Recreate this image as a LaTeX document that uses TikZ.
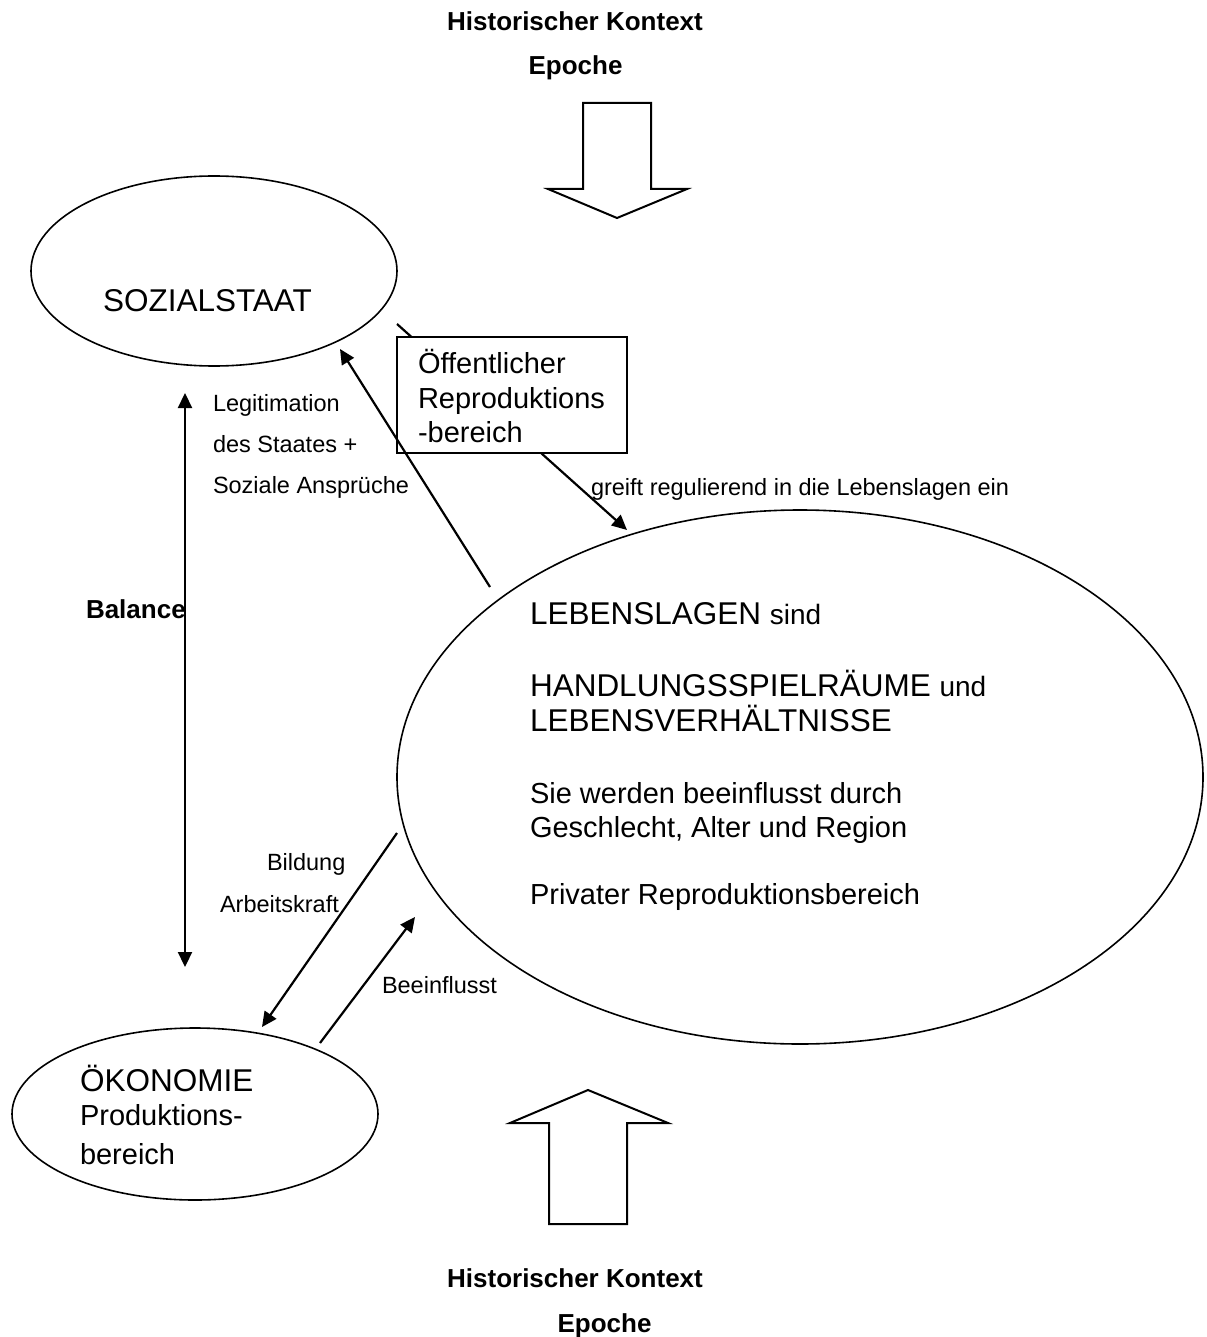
\documentclass[tikz,border=0pt]{standalone}
\usepackage{fontspec}
\setmainfont{Liberation Sans}
\usetikzlibrary{shapes.geometric,arrows.meta}
\begin{document}
\begin{tikzpicture}[x=1pt,y=-1pt,
  txt/.style={inner sep=0pt,outer sep=0pt,anchor=base west},
  ctxt/.style={inner sep=0pt,outer sep=0pt,anchor=base},
  oval/.style={draw,ellipse,line width=1.6pt,inner sep=0pt,outer sep=0pt},
  conn/.style={line width=2.2pt,-{Triangle[length=15pt,width=14pt]}},
  plain/.style={line width=2.2pt},
  blockarrow/.style={draw,line width=2pt,line join=miter,fill=white},
  big/.style={font=\fontsize{31.5}{36}\selectfont},
  mid/.style={font=\fontsize{29}{35}\selectfont},
  small/.style={font=\fontsize{23.5}{28}\selectfont},
  bold/.style={font=\fontsize{26}{30}\selectfont\bfseries}]
\useasboundingbox (0,0) rectangle (1206,1337);

% context labels
\node[ctxt,bold] (hk1) at (575,31) {Historischer Kontext};
\node[ctxt,bold] (ep1) at (575.5,75) {Epoche};
\node[ctxt,bold] (hk2) at (575,1287) {Historischer Kontext};
\node[ctxt,bold] (ep2) at (604.5,1332) {Epoche};

% block arrows
\draw[blockarrow] (583,103) -- (651,103) -- (651,189) -- (687,189) -- (617,218) -- (548,189) -- (583,189) -- cycle;
\draw[blockarrow] (549,1224) -- (627,1224) -- (627,1123) -- (668,1123) -- (588,1090) -- (510,1123) -- (549,1123) -- cycle;

% ellipses
\node[oval,minimum width=366pt,minimum height=190pt] (soz) at (214,271) {};
\node[oval,minimum width=806pt,minimum height=534pt] (leb) at (800,777) {};
\node[oval,minimum width=366pt,minimum height=172pt] (oek) at (195,1114) {};

\node[txt,big] (sozt) at (103,312) {SOZIALSTAAT};
\node[txt,big] (oekt) at (80,1091) {ÖKONOMIE};
\node[txt,mid] (oekt2) at (80,1125) {Produktions-};
\node[txt,mid] (oekt3) at (80,1164) {bereich};

\node[txt] (l1) at (530,624) {\fontsize{31.5}{36}\selectfont LEBENSLAGEN \fontsize{28}{34}\selectfont sind};
\node[txt] (l2) at (530,696) {\fontsize{31.5}{36}\selectfont HANDLUNGSSPIELRÄUME \fontsize{28}{34}\selectfont und};
\node[txt,big] (l3) at (530,731) {LEBENSVERHÄLTNISSE};
\node[txt,mid] (l4) at (530,803) {Sie werden beeinflusst durch};
\node[txt,mid] (l5) at (530,837) {Geschlecht, Alter und Region};
\node[txt,mid] (l6) at (530,904) {Privater Reproduktionsbereich};

% connector through the box
\coordinate (gs) at (397,324);
\coordinate (ge) at (627,530);
\draw[conn] (gs) -- (ge);

% box
\node[draw,line width=2pt,fill=white,minimum width=230pt,minimum height=116pt,inner sep=0pt,outer sep=0pt] (rbox) at (512,395) {};
\node[txt,mid] (b1) at (418,373) {Öffentlicher};
\node[txt,mid] (b2) at (418,408) {Reproduktions};
\node[txt,mid] (b3) at (418,442) {-bereich};

% other connectors
\coordinate (ls) at (490,587);
\coordinate (le) at (340,349);
\draw[conn] (ls) -- (le);

\coordinate (vt) at (185,393);
\coordinate (vb) at (185,967);
\draw[line width=2.2pt,{Triangle[length=15pt,width=14pt]}-{Triangle[length=15pt,width=14pt]}] (vt) -- (vb);

\coordinate (bs) at (397,833);
\coordinate (be) at (262,1027);
\draw[conn] (bs) -- (be);

\coordinate (es) at (320,1043);
\coordinate (ee) at (415,917);
\draw[conn] (es) -- (ee);

% labels
\node[txt,small] (lg1) at (213,411) {Legitimation};
\node[txt,small] (lg2) at (213,452) {des Staates +};
\node[txt,small] (lg3) at (213,493) {Soziale Ansprüche};
\node[txt,small] (gr) at (591,495) {greift regulierend in die Lebenslagen ein};
\node[txt,bold] (bal) at (86,618) {Balance};
\node[txt,small] (bi1) at (267,870) {Bildung};
\node[txt,small] (bi2) at (220,912) {Arbeitskraft};
\node[txt,small] (bee) at (382,993) {Beeinflusst};
\end{tikzpicture}
\end{document}
